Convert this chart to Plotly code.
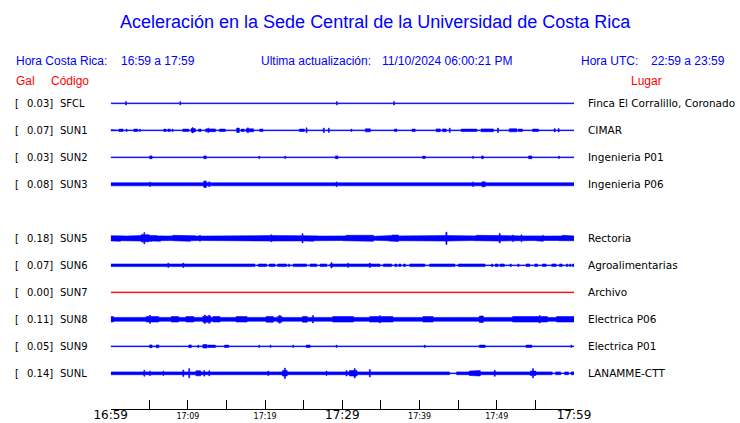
import numpy as np
import plotly.graph_objects as go

# ---------------- data ----------------
CODES = ["SFCL", "SUN1", "SUN2", "SUN3", None, "SUN5", "SUN6", "SUN7", "SUN8", "SUN9", "SUNL"]
GAL = [0.03, 0.07, 0.03, 0.08, None, 0.18, 0.07, 0.00, 0.11, 0.05, 0.14]
PLACES = ["Finca El Corralillo, Coronado", "CIMAR", "Ingenieria P01", "Ingenieria P06", None,
          "Rectoria", "Agroalimentarias", "Archivo", "Electrica P06", "Electrica P01", "LANAMME-CTT"]
TRACE_COLORS = ["#0000ff", "#0000ff", "#0000ff", "#0000ff", None,
                "#0000ff", "#0000ff", "#ff0000", "#0000ff", "#0000ff", "#0000ff"]

# minutes after 16:59
TICK_MINUTES = [0, 5, 10, 15, 20, 25, 30, 35, 40, 45, 50, 55, 60]
TICK_LABELS = ["16:59", "", "17:09", "", "17:19", "", "17:29", "", "17:39", "", "17:49", "", "17:59"]
BIG_TICKS = ["16:59", "17:29", "17:59"]

# baseline half-amplitude (relative units) : scalar or one value per minute
BASE_SFCL = 0.7
BASE_SUN1 = 0.7
BASE_SUN2 = 0.7
BASE_SUN3 = 1.8
BASE_SUN5 = [2.9, 2.7, 2.5, 3.0, 3.8, 3.0, 2.7, 2.5, 2.7, 2.7,
             2.8, 2.5, 2.3, 2.3, 2.3, 2.4, 2.3, 2.4, 2.3, 2.4,
             2.8, 2.5, 2.3, 2.5, 2.9, 2.7, 2.7, 2.5, 2.7, 2.5,
             2.7, 2.7, 2.8, 2.7, 2.3, 2.7, 3.0, 2.7, 2.7, 2.7,
             2.5, 2.3, 2.5, 3.0, 2.7, 2.7, 2.5, 2.7, 2.8, 3.0,
             3.0, 2.8, 2.8, 2.7, 2.5, 2.7, 2.5, 2.5, 2.7, 2.7]
BASE_SUN6 = 1.6
BASE_SUN7 = 0.7
BASE_SUN8 = 2.2
BASE_SUN9 = 0.7
BASE_SUNL = 1.7

# quiet stretches where the trace falls back to a thin line: (start minute, end minute)
GAPS_SUN6 = [(18.7, 19.1), (20.2, 20.5), (21.3, 21.6), (22.8, 23.0), (23.2, 23.6), (25.4, 25.8),
             (26.7, 27.1), (28.0, 28.4), (34.9, 35.3), (36.4, 36.8), (37.1, 37.3), (37.6, 37.9),
             (38.2, 38.7), (40.7, 41.3), (44.6, 45.0), (48.5, 49.3), (49.5, 49.8), (50.2, 50.4),
             (51.0, 51.7), (51.9, 52.7), (52.9, 53.8), (54.3, 54.9), (55.3, 55.9), (56.4, 57.1),
             (57.7, 58.1), (58.5, 59.0), (59.2, 59.4), (59.6, 59.8)]
GAPS_SUNL = [(43.9, 44.8), (57.2, 57.6), (58.3, 58.8), (59.3, 59.6)]

# bursts: (start minute, end minute, half-amplitude)
BURSTS_SFCL = [(1.98, 1.98, 2.0), (5.6, 5.75, 1.2), (6.29, 6.29, 1.2), (9.01, 9.01, 2.0),
               (29.29, 29.29, 2.0), (34.11, 34.11, 1.2), (36.70, 36.70, 2.0)]
BURSTS_SUN1 = [(0.04, 0.04, 1.0), (1.11, 1.55, 1.5), (2.07, 2.07, 1.5), (3.05, 3.44, 1.5), (3.79, 3.79, 1.5),
               (6.29, 6.29, 1.2), (6.94, 7.12, 1.5), (7.45, 7.67, 1.5), (8.02, 8.02, 1.5), (9.19, 9.19, 1.2),
               (9.40, 10.04, 1.5), (10.48, 10.91, 2.0), (10.6, 10.6, 3.0), (11.43, 11.65, 1.5),
               (12.33, 13.50, 1.7), (12.63, 12.63, 2.6), (14.15, 14.79, 1.5), (15.22, 15.22, 1.2),
               (15.57, 15.57, 1.2), (15.87, 15.87, 1.2), (16.38, 16.60, 2.5), (16.95, 17.25, 1.5),
               (17.60, 18.45, 1.8), (17.77, 17.77, 2.8), (18.77, 18.77, 1.2), (19.36, 19.67, 1.5),
               (19.97, 19.97, 1.0), (22.21, 22.56, 1.2), (23.11, 23.42, 1.2), (24.50, 25.02, 1.5),
               (25.37, 25.37, 2.8), (26.44, 26.44, 1.0), (26.87, 26.87, 1.0), (27.60, 27.60, 2.5),
               (28.25, 28.25, 2.5), (29.25, 29.25, 1.2), (31.19, 31.19, 1.5), (31.71, 31.71, 1.0),
               (32.35, 32.35, 1.0), (33.04, 33.56, 1.8), (33.3, 33.3, 2.5), (33.86, 33.86, 1.0),
               (34.55, 34.55, 1.0), (35.07, 35.07, 1.0), (35.80, 35.80, 1.0), (36.24, 36.24, 1.0),
               (36.79, 37.01, 1.5), (37.44, 37.44, 1.0), (37.96, 37.96, 1.0), (39.08, 39.38, 1.5),
               (39.60, 39.60, 1.0), (40.46, 40.46, 1.0), (41.41, 41.41, 1.0), (42.19, 42.62, 1.7),
               (43.04, 43.39, 1.7), (43.91, 43.91, 2.5), (44.78, 44.78, 1.2), (45.43, 46.07, 1.5),
               (46.15, 47.37, 1.5), (48.01, 49.51, 1.7), (50.16, 50.16, 2.5), (51.12, 51.12, 1.0),
               (51.68, 52.54, 1.8), (52.06, 52.06, 2.5), (52.84, 53.27, 1.5), (54.17, 54.17, 1.0),
               (54.69, 55.34, 1.5), (56.86, 56.86, 1.2), (57.50, 57.50, 2.0), (58.02, 58.02, 2.0),
               (59.01, 59.01, 1.2)]
BURSTS_SUN2 = [(5.09, 5.31, 1.7), (12.11, 12.33, 1.7), (12.63, 12.76, 1.3), (19.23, 19.23, 1.5),
               (20.27, 20.27, 0.9), (22.60, 22.60, 1.5), (27.95, 27.95, 0.9), (29.16, 29.38, 1.7),
               (40.46, 40.68, 1.5), (46.93, 46.93, 1.5), (48.10, 48.20, 1.7), (54.17, 54.48, 1.7),
               (58.06, 58.06, 1.5)]
BURSTS_SUN3 = [(0.99, 0.99, 2.5), (5.09, 5.09, 2.6), (12.11, 12.33, 3.5), (12.76, 12.76, 2.8),
               (27.95, 27.95, 2.5), (29.25, 29.25, 2.7), (40.80, 40.80, 2.3), (46.93, 46.93, 2.7),
               (48.14, 48.44, 2.8), (54.26, 54.26, 2.3)]
BURSTS_SUN5 = [(0.13, 0.13, 3.3), (1.2, 1.2, 3.3), (2.93, 2.93, 3.1), (4.01, 4.01, 4.0), (4.35, 4.35, 6.0),
               (4.66, 4.66, 4.5), (5.31, 5.31, 3.5), (6.38, 6.38, 3.3), (8.1, 8.1, 3.3), (9.4, 9.4, 3.3),
               (10.26, 10.26, 3.3), (11.56, 11.56, 3.3), (19.7, 21.5, 3.0), (20.8, 20.8, 3.8),
               (24.85, 24.85, 5.0), (26.22, 26.22, 3.3), (30.54, 30.54, 3.3), (31.84, 31.84, 3.3),
               (33.13, 33.13, 3.3), (33.99, 33.99, 3.3), (36.5, 37.2, 3.5), (43.48, 43.48, 6.5),
               (47.37, 47.37, 3.3), (49.3, 49.95, 3.4), (50.38, 50.38, 5.0), (52.1, 52.1, 3.6),
               (53.19, 53.19, 3.8), (55.99, 55.99, 3.3), (58.57, 58.57, 3.3), (59.44, 59.44, 3.3)]
BURSTS_SUN6 = [(1.63, 1.63, 2.2), (7.45, 7.45, 2.5), (9.4, 9.4, 2.5), (28.6, 28.6, 3.0),
               (30.75, 30.75, 2.5), (33.56, 33.56, 2.5), (40.0, 40.0, 2.0), (46.93, 46.93, 2.2)]
BURSTS_SUN7 = []
BURSTS_SUN8 = [(0.0, 0.3, 3.0), (1.2, 2.9, 2.8), (4.66, 6.16, 3.0), (5.09, 5.09, 4.5), (7.9, 8.75, 3.0),
               (9.8, 10.7, 3.0), (12.0, 12.9, 3.3), (12.2, 12.2, 4.5), (12.75, 12.75, 4.5),
               (13.3, 14.1, 3.0), (16.3, 17.6, 3.0), (20.2, 21.0, 3.2), (21.7, 22.1, 3.3),
               (21.9, 21.9, 4.2), (24.9, 25.4, 3.2), (26.2, 26.2, 4.0), (28.8, 31.4, 3.0),
               (33.6, 36.5, 3.0), (34.85, 34.85, 4.0), (40.5, 41.7, 3.0), (47.8, 48.2, 3.5),
               (52.1, 56.5, 3.0), (55.56, 55.56, 4.0), (57.8, 60.0, 3.0)]
BURSTS_SUN9 = [(0.13, 0.13, 1.3), (0.78, 0.78, 1.2), (1.2, 1.2, 1.0), (2.07, 2.07, 1.0), (2.8, 2.8, 1.3),
               (3.49, 3.49, 1.3), (5.09, 5.31, 1.7), (5.95, 6.16, 1.7), (8.32, 8.32, 1.0),
               (10.17, 10.39, 1.7), (11.34, 11.34, 1.5), (11.99, 12.42, 2.0), (12.63, 13.5, 1.5),
               (13.93, 13.93, 1.3), (14.79, 15.22, 1.5), (16.64, 16.64, 1.0), (18.12, 18.12, 1.0),
               (18.55, 18.55, 1.2), (19.23, 19.23, 1.5), (20.71, 20.71, 1.5), (21.26, 21.26, 1.2),
               (21.91, 21.91, 1.2), (22.56, 22.56, 1.2), (23.63, 23.63, 1.5), (25.37, 25.79, 1.5),
               (28.81, 28.81, 1.3), (29.25, 29.25, 1.5), (30.75, 30.75, 1.0), (31.4, 31.4, 1.0),
               (33.13, 33.13, 1.2), (35.07, 35.07, 1.0), (39.6, 39.6, 1.0), (40.68, 40.68, 1.5),
               (43.26, 43.26, 1.0), (47.14, 47.14, 1.0), (47.8, 48.44, 1.5), (51.25, 51.25, 1.0),
               (53.84, 54.48, 1.5), (55.56, 55.56, 1.0), (56.85, 56.85, 1.0), (59.66, 59.66, 1.5)]
BURSTS_SUNL = [(3.14, 3.14, 2.0), (4.35, 4.35, 3.3), (5.09, 5.09, 2.7), (6.81, 6.81, 2.5), (9.4, 9.4, 3.5),
               (10.17, 10.17, 5.0), (11.1, 11.6, 2.8), (12.11, 12.11, 3.2), (12.76, 12.76, 2.8),
               (20.4, 20.4, 2.5), (22.3, 22.8, 3.0), (22.56, 22.56, 5.5), (24.7, 24.7, 2.0),
               (27.95, 27.95, 2.5), (30.54, 30.54, 3.0), (30.97, 31.84, 3.0), (31.6, 31.6, 5.0),
               (33.56, 33.56, 4.0), (46.5, 47.8, 2.5), (47.8, 47.8, 3.0), (49.74, 49.74, 3.3),
               (54.4, 55.0, 2.5), (54.69, 54.69, 5.0)]

BASES = [BASE_SFCL, BASE_SUN1, BASE_SUN2, BASE_SUN3, None, BASE_SUN5, BASE_SUN6,
         BASE_SUN7, BASE_SUN8, BASE_SUN9, BASE_SUNL]
GAPS = [[], [], [], [], None, [], GAPS_SUN6, [], [], [], GAPS_SUNL]
BURSTS = [BURSTS_SFCL, BURSTS_SUN1, BURSTS_SUN2, BURSTS_SUN3, None, BURSTS_SUN5, BURSTS_SUN6,
          BURSTS_SUN7, BURSTS_SUN8, BURSTS_SUN9, BURSTS_SUNL]
THIN = 0.7  # half-amplitude of a quiet trace

# ---------------- layout helpers ----------------
W, H = 740, 423
ROW_PX = 27.0          # pixel spacing between rows
FIRST_ROW_PX = 103.3   # pixel centre of first row
AXIS_PX = 409.0        # pixel of time axis
X0_PX, X1_PX = 110.7, 574.0
LINE_W = 0.6


def px(x):
    return x / W


def py(y):
    return 1 - y / H


T = np.linspace(0, 60, 3001)


def envelope(base, gaps, bursts):
    if np.ndim(base) == 0:
        env = np.full(T.shape, float(base))
    else:
        env = np.asarray(base, float)[np.minimum(T.astype(int), len(base) - 1)]
    for t0, t1 in gaps:
        env[(T >= t0) & (T <= t1)] = THIN
    for t0, t1, a in bursts:
        m = (T >= t0 - 0.065) & (T <= t1 + 0.065)
        env[m] = np.maximum(env[m], a)
    return env


fig = go.Figure()
for i, code in enumerate(CODES):
    if code is None:
        continue
    env = envelope(BASES[i], GAPS[i], BURSTS[i])
    half = np.clip(env - LINE_W / 2, 0.05, None) / ROW_PX
    centre = -i
    xs = np.concatenate([T, T[::-1]])
    ys = np.concatenate([centre + half, (centre - half)[::-1]])
    fig.add_trace(go.Scatter(x=xs, y=ys, mode="lines", fill="toself",
                             fillcolor=TRACE_COLORS[i],
                             line=dict(color=TRACE_COLORS[i], width=LINE_W),
                             hoverinfo="skip", showlegend=False))

ticktext = []
for lab in TICK_LABELS:
    if lab in BIG_TICKS or lab == "":
        ticktext.append(lab)
    else:
        ticktext.append('<span style="font-size:8px">' + lab + '</span>')

ytop = -FIRST_ROW_PX / ROW_PX
ybot = (AXIS_PX - FIRST_ROW_PX) / ROW_PX

fig.update_layout(
    template="none",
    width=W, height=H, autosize=False,
    margin=dict(l=0, r=0, t=0, b=0, pad=0, autoexpand=False),
    paper_bgcolor="white", plot_bgcolor="white", showlegend=False,
    xaxis=dict(domain=[px(X0_PX), px(X1_PX)], range=[0, 60], showgrid=False, zeroline=False,
               automargin=False,
               showline=True, linecolor="black", linewidth=1,
               ticks="inside", ticklen=9, tickwidth=1, tickcolor="black",
               tickmode="array", tickvals=TICK_MINUTES, ticktext=ticktext,
               tickfont=dict(family="DejaVu Sans", size=12, color="black"),
               ticklabelstandoff=-5,
               fixedrange=True),
    yaxis=dict(domain=[(H - AXIS_PX) / H, 1], range=[-ybot, -ytop], visible=False,
               automargin=False, fixedrange=True),
)

BLUE = "#0000ff"
RED = "#ff0000"


def note(text, x, y, color, size, family="Liberation Sans", xanchor="left", yref="paper"):
    fig.add_annotation(text=text, x=px(x), y=(py(y) if yref == "paper" else y), xref="paper", yref=yref,
                       xanchor=xanchor, yanchor="middle", showarrow=False, borderpad=0,
                       font=dict(family=family, size=size, color=color))


note("Aceleración en la Sede Central de la Universidad de Costa Rica", 375, 22, BLUE, 18, xanchor="center")
note("Hora Costa Rica:", 15, 61, BLUE, 12)
note("16:59 a 17:59", 120, 61, BLUE, 12)
note("Ultima actualización:", 260, 61, BLUE, 12)
note("11/10/2024 06:00:21 PM", 381, 61, BLUE, 12)
note("Hora UTC:", 580, 61, BLUE, 12)
note("22:59 a 23:59", 650, 61, BLUE, 12)
note("Gal", 15, 81, RED, 12)
note("Código", 50, 81, RED, 12)
note("Lugar", 630, 81, RED, 12)

for i, code in enumerate(CODES):
    if code is None:
        continue
    note("[", 14, -i, "black", 10, family="DejaVu Sans", yref="y")
    note(f"{GAL[i]:.2f}]", 53.5, -i, "black", 10, family="DejaVu Sans", xanchor="right", yref="y")
    note(code, 58.5, -i, "black", 10, family="DejaVu Sans", yref="y")
    note(PLACES[i], 587, -i, "black", 10.5, family="DejaVu Sans", yref="y")

fig.write_html("out.html", config={"displayModeBar": False, "staticPlot": True},
               post_script="document.body.style.margin='0px';document.body.style.overflow='hidden';")
